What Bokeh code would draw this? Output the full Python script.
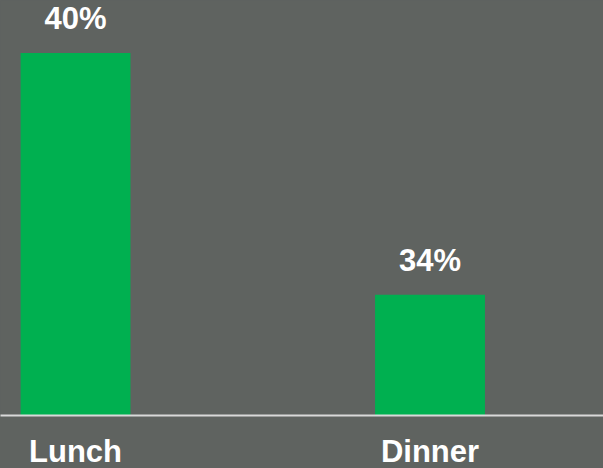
from bokeh.plotting import figure
from bokeh.models import Range1d, ColumnDataSource, LabelSet
from bokeh.core.properties import value
from bokeh.embed import file_html
from bokeh.resources import INLINE

# data
categories = ["Lunch", "Dinner"]
values = [40, 34]
value_labels = ["40%", "34%"]

axis_min = 31.0
axis_max = 41.3

BG = "#5f6360"
GREEN = "#00b050"
FONT = "Liberation Sans"

xs = list(range(len(categories)))
src = ColumnDataSource(dict(x=xs, top=values, lab=value_labels))

p = figure(width=603, height=471, output_backend="svg", toolbar_location=None,
           x_range=Range1d(-0.2116, 1.4894), y_range=Range1d(axis_min, axis_max),
           min_border_left=0, min_border_right=0, min_border_top=0, min_border_bottom=55)
p.background_fill_color = BG
p.border_fill_color = BG
p.outline_line_color = None
p.grid.visible = False
p.yaxis.visible = False

p.vbar(x="x", top="top", bottom=axis_min, width=0.31, source=src,
       fill_color=GREEN, line_color=None)

labels = LabelSet(x="x", y="top", text="lab", source=src, text_align="center",
                  text_baseline="bottom", y_offset=17, text_color="white",
                  text_font=value(FONT), text_font_size="31px", text_font_style="bold")
p.add_layout(labels)

ax = p.xaxis[0]
ax.ticker = xs
ax.major_label_overrides = {i: c for i, c in zip(xs, categories)}
ax.major_tick_line_color = None
ax.minor_tick_line_color = None
ax.major_tick_out = 0
ax.major_tick_in = 0
ax.axis_line_color = "#d9d9d9"
ax.axis_line_width = 2
ax.major_label_text_color = "white"
ax.major_label_text_font = FONT
ax.major_label_text_font_size = "31px"
ax.major_label_text_font_style = "bold"
ax.major_label_standoff = 18

html = file_html(p, INLINE)
html = html.replace("<head>", "<head><style>html,body{margin:0;padding:0;overflow:hidden;background:%s;}</style>" % BG, 1)
open("out.html", "w").write(html)
